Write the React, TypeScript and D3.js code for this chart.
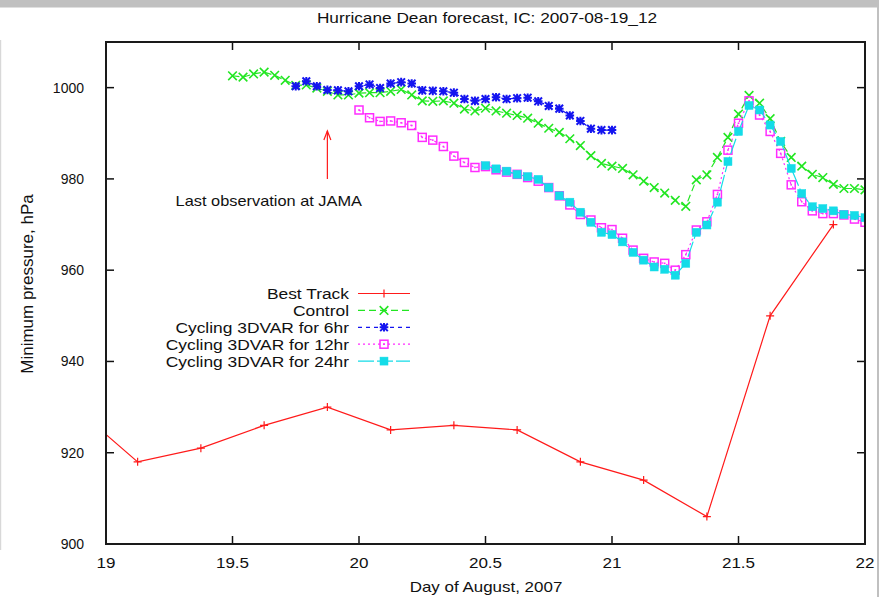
import React from 'react';
import * as d3 from 'd3';

const W = 879;
const H = 597;

const TITLE = 'Hurricane Dean forecast, IC: 2007-08-19_12';
const X_LABEL = 'Day of August, 2007';
const Y_LABEL = 'Minimum pressure, hPa';
const ANNOTATION = 'Last observation at JAMA';

const X_TICKS = [19, 19.5, 20, 20.5, 21, 21.5, 22];
const X_TICK_LABELS = ['19', '19.5', '20', '20.5', '21', '21.5', '22'];
const Y_TICKS = [900, 920, 940, 960, 980, 1000];
const Y_TICK_LABELS = ['900', '920', '940', '960', '980', '1000'];

// Best track (6-hourly)
const BEST_DAYS = [18.875, 19.125, 19.375, 19.625, 19.875, 20.125, 20.375, 20.625, 20.875, 21.125, 21.375, 21.625, 21.875];
const BEST_P = [930, 918, 921, 926, 930, 925, 926, 925, 918, 914, 906, 950, 970];

// Hourly model output
const HOUR = 1 / 24;
const CONTROL_START = 19.5;
const CONTROL_P = [
  1002.6, 1002.3, 1003.0, 1003.4, 1002.7, 1001.6, 1000.5, 1000.6, 999.9, 999.2, 998.4, 998.4,
  998.8, 998.9, 998.9, 999.2, 999.6, 998.4, 997.1, 997.0, 997.1, 996.6, 995.3, 994.9,
  995.5, 994.9, 994.4, 993.9, 993.3, 992.2, 991.1, 990.2, 988.8, 987.3, 985.1, 983.4,
  982.8, 982.3, 980.9, 979.5, 978.1, 976.9, 975.3, 974.0, 979.8, 980.9, 984.7, 989.1,
  994.2, 998.3, 996.6, 993.2, 988.2, 984.7, 982.8, 981.0, 980.3, 978.8, 977.9, 977.9,
  977.6,
];

const CYC6_START = 19.75;
const CYC6_P = [
  1000.3, 1001.4, 1000.3, 999.5, 999.4, 999.2, 1000.3, 1000.7, 999.9, 1000.9, 1001.2, 1000.9,
  999.4, 999.3, 999.2, 998.9, 997.5, 997.1, 997.5, 997.9, 997.5, 997.7, 997.8, 997.0,
  996.0, 995.4, 993.9, 992.7, 991.0, 990.7, 990.7,
];

const CYC12_START = 20.0;
const CYC12_P = [
  995.1, 993.4, 992.6, 992.7, 992.3, 991.7, 989.1, 988.5, 987.1, 985.0, 983.6, 982.5,
  982.7, 982.0, 981.5, 981.0, 980.3, 979.5, 978.1, 976.3, 974.3, 972.2, 971.0, 969.3,
  968.9, 967.0, 964.4, 962.6, 961.8, 961.5, 960.0, 963.4, 968.8, 970.6, 976.6, 986.3,
  992.2, 997.1, 994.0, 990.4, 985.6, 978.7, 975.0, 973.0, 972.4, 972.4, 972.1, 971.2,
  970.5,
];

const CYC24_START = 20.5;
const CYC24_P = [
  982.9, 982.2, 981.7, 981.0, 980.5, 979.9, 978.1, 976.3, 974.9, 972.7, 970.5, 968.3,
  967.8, 966.2, 963.9, 962.2, 960.7, 960.2, 958.9, 961.5, 968.3, 969.9, 974.9, 983.8,
  990.4, 996.1, 995.1, 991.8, 988.2, 982.3, 976.8, 973.9, 973.5, 973.0, 972.2, 972.0,
  971.5,
];

const ARROW_DAY = 19.875;
const ARROW_FROM = 980;
const ARROW_TO = 990.5;
const ANNOT_DAY = 19.275;
const ANNOT_P = 975.4;

const LEGEND_LABELS = ['Best Track', 'Control', 'Cycling 3DVAR for 6hr', 'Cycling 3DVAR for 12hr', 'Cycling 3DVAR for 24hr'];

type Pt = [number, number];
const hourly = (start: number, vals: number[]): Pt[] => vals.map((v, i) => [start + i * HOUR, v]);

const FONT = "'Liberation Sans', Arial, Helvetica, sans-serif";

const SERIES = [
  { key: 'best', color: '#ff1a1a', dash: undefined as string | undefined, marker: 'plus', data: BEST_DAYS.map((d, i) => [d, BEST_P[i]] as Pt) },
  { key: 'control', color: '#22e622', dash: '7,4', marker: 'cross', data: hourly(CONTROL_START, CONTROL_P) },
  { key: 'c6', color: '#1414f0', dash: '4,4', marker: 'star', data: hourly(CYC6_START, CYC6_P) },
  { key: 'c12', color: '#ff2cff', dash: '2,3', marker: 'osquare', data: hourly(CYC12_START, CYC12_P) },
  { key: 'c24', color: '#14dce8', dash: '16,3', marker: 'fsquare', data: hourly(CYC24_START, CYC24_P) },
];

function SText({ x, y, anchor, size, sx, children, rotate }: { x: number; y: number; anchor?: string; size: number; sx?: number; children: React.ReactNode; rotate?: number }) {
  const tr = `translate(${x},${y})${rotate ? ` rotate(${rotate})` : ''} scale(${sx ?? 1},1)`;
  return (
    <text transform={tr} textAnchor={anchor ?? 'start'} fontSize={size} fill="#111">
      {children}
    </text>
  );
}

function Marker({ type, cx, cy, color }: { type: string; cx: number; cy: number; color: string }) {
  const s = 4;
  if (type === 'plus') {
    return <path d={`M${cx - s},${cy}H${cx + s}M${cx},${cy - s}V${cy + s}`} stroke={color} strokeWidth={1.2} fill="none" />;
  }
  if (type === 'cross') {
    const r = 4.3;
    return <path d={`M${cx - r},${cy - r}L${cx + r},${cy + r}M${cx - r},${cy + r}L${cx + r},${cy - r}`} stroke={color} strokeWidth={1.6} fill="none" />;
  }
  if (type === 'star') {
    const r = 3.8;
    return (
      <path
        d={`M${cx - r},${cy - r}L${cx + r},${cy + r}M${cx - r},${cy + r}L${cx + r},${cy - r}M${cx - r - 0.5},${cy}H${cx + r + 0.5}M${cx},${cy - r - 0.5}V${cy + r + 0.5}`}
        stroke={color}
        strokeWidth={2}
        fill="none"
      />
    );
  }
  if (type === 'osquare') {
    return (
      <g>
        <rect x={cx - s} y={cy - s} width={2 * s} height={2 * s} stroke={color} strokeWidth={1.5} fill="none" />
        <rect x={cx - 0.8} y={cy - 0.8} width={1.6} height={1.6} fill={color} />
      </g>
    );
  }
  return <rect x={cx - s} y={cy - s} width={2 * s} height={2 * s} fill={color} stroke={color} strokeWidth={0.5} />;
}

export default function App() {
  const left = 106, right = 865, top = 42, bottom = 544;
  const x = d3.scaleLinear().domain([19, 22]).range([left, right]);
  const y = d3.scaleLinear().domain([900, 1010]).range([bottom, top]);
  const line = d3.line<Pt>().x((d) => x(d[0])).y((d) => y(d[1]));
  const tickLen = 8;

  const legendX = 349;
  const legendY0 = 293.5;
  const legendDy = 16.9;

  const ax = x(ARROW_DAY);
  const ay1 = y(ARROW_FROM);
  const ay2 = y(ARROW_TO);

  return (
    <div style={{ position: 'absolute', left: 0, top: 0, width: W, height: H, background: '#fff' }}>
      <svg width={W} height={H} style={{ display: 'block' }} fontFamily={FONT}>
        <rect x={0} y={0} width={W} height={H} fill="#fff" />
        {/* screenshot frame */}
        <rect x={0} y={0} width={W} height={7.5} fill="#c0c0c0" />
        <rect x={877} y={0} width={2} height={H} fill="#c0c0c0" />
        <rect x={0} y={40} width={1.2} height={510} fill="#d8d8d8" />

        <defs>
          <clipPath id="plotclip">
            <rect x={left} y={top} width={right - left} height={bottom - top} />
          </clipPath>
        </defs>

        <SText x={487} y={23} anchor="middle" size={15} sx={1.15}>{TITLE}</SText>

        {/* ticks */}
        {X_TICKS.map((t, i) => (
          <g key={`xt${i}`}>
            <line x1={x(t)} x2={x(t)} y1={bottom} y2={bottom - tickLen} stroke="#111" strokeWidth={1.5} />
            <line x1={x(t)} x2={x(t)} y1={top} y2={top + tickLen} stroke="#111" strokeWidth={1.5} />
            <SText x={x(t)} y={568} anchor="middle" size={15.5} sx={1.1}>{X_TICK_LABELS[i]}</SText>
          </g>
        ))}
        {Y_TICKS.map((t, i) => (
          <g key={`yt${i}`}>
            <line x1={left} x2={left + tickLen} y1={y(t)} y2={y(t)} stroke="#111" strokeWidth={1.5} />
            <line x1={right} x2={right - tickLen} y1={y(t)} y2={y(t)} stroke="#111" strokeWidth={1.5} />
            <SText x={84} y={y(t) + 5} anchor="end" size={14}>{Y_TICK_LABELS[i]}</SText>
          </g>
        ))}

        <SText x={486} y={592} anchor="middle" size={15} sx={1.13}>{X_LABEL}</SText>
        <SText x={33} y={284} anchor="middle" size={17} rotate={-90}>{Y_LABEL}</SText>

        {/* series */}
        <g clipPath="url(#plotclip)">
          {SERIES.map((s) => (
            <g key={s.key}>
              <path d={line(s.data) || ''} fill="none" stroke={s.color} strokeWidth={1.2} strokeDasharray={s.dash} />
              {s.data.map((d, i) => (
                <Marker key={i} type={s.marker} cx={x(d[0])} cy={y(d[1])} color={s.color} />
              ))}
            </g>
          ))}
        </g>

        {/* annotation arrow */}
        <line x1={ax} x2={ax} y1={ay1} y2={ay2} stroke="#ff1a1a" strokeWidth={1.2} />
        <path d={`M${ax - 3.5},${ay2 + 9}L${ax},${ay2}L${ax + 3.5},${ay2 + 9}`} stroke="#ff1a1a" strokeWidth={1.2} fill="none" />
        <SText x={x(ANNOT_DAY)} y={y(ANNOT_P) + 6} size={14} sx={1.17}>{ANNOTATION}</SText>

        {/* legend */}
        {SERIES.map((s, i) => {
          const ly = legendY0 + i * legendDy;
          return (
            <g key={`lg${s.key}`}>
              <SText x={legendX} y={ly + 5.5} anchor="end" size={14.5} sx={1.2}>{LEGEND_LABELS[i]}</SText>
              <line x1={358} x2={410} y1={ly} y2={ly} stroke={s.color} strokeWidth={1.2} strokeDasharray={s.dash} />
              <Marker type={s.marker} cx={384} cy={ly} color={s.color} />
            </g>
          );
        })}

        {/* frame */}
        <rect x={left} y={top} width={right - left} height={bottom - top} fill="none" stroke="#1a1a1a" strokeWidth={2} />
      </svg>
    </div>
  );
}
